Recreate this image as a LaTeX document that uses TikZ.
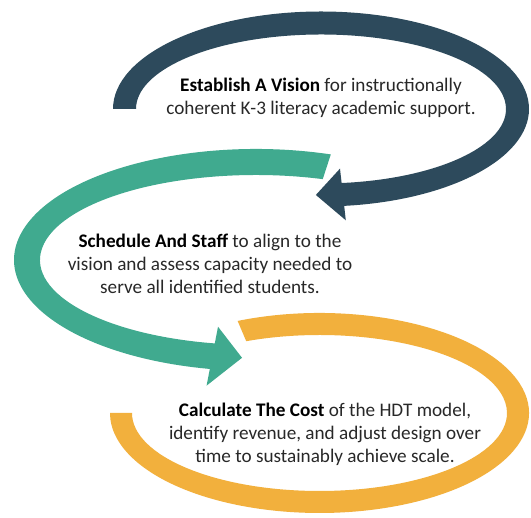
\documentclass[tikz,border=0pt]{standalone}
\usepackage{fontspec}
\setmainfont{Carlito}
\definecolor{navyband}{RGB}{45,74,92}
\definecolor{tealband}{RGB}{64,170,143}
\definecolor{goldband}{RGB}{242,176,61}
\definecolor{bodytext}{RGB}{40,40,40}
\tikzset{
  steptext/.style={align=center, text=bodytext, font=\fontsize{19.2pt}{23pt}\selectfont, inner sep=0pt},
}
\newcommand{\lead}[1]{\textbf{\color{black}#1}}
\begin{document}
\begin{tikzpicture}[x=1pt,y=1pt]
\useasboundingbox (0,0) rectangle (531,518);
\fill[white] (0,0) rectangle (531,518);

% top loop: dark band ending in a left-pointing head
\begin{scope}[shift={(321pt,409pt)}]
\fill[navyband] (180:208pt and 97.5pt)
  arc[start angle=180, end angle=-83.6, x radius=208pt, y radius=97.5pt]
  -- (-83.6:222.5pt and 112pt)
  -- (-91.5:196.5pt and 86pt)
  -- (-83.6:170.5pt and 60pt)
  -- (-83.6:185pt and 74.5pt)
  arc[start angle=-83.6, end angle=180, x radius=185pt, y radius=74.5pt]
  -- cycle;
\end{scope}

% middle loop: teal band ending in a right-pointing head
\begin{scope}[shift={(256pt,258pt)}]
\fill[tealband] (72:242pt and 111pt)
  arc[start angle=72, end angle=259, x radius=242pt, y radius=111pt]
  -- (259:259pt and 128pt)
  -- (266.5:229pt and 98pt)
  -- (259:199pt and 68pt)
  -- (259:216pt and 85pt)
  arc[start angle=259, end angle=72, x radius=216pt, y radius=85pt]
  -- cycle;
\end{scope}

% bottom loop: gold band, open at the lower left
\begin{scope}[shift={(319.5pt,105pt)}]
\fill[goldband] (113:209.5pt and 100pt)
  arc[start angle=113, end angle=-180, x radius=209.5pt, y radius=100pt]
  -- (-180:187.5pt and 78pt)
  arc[start angle=-180, end angle=113, x radius=187.5pt, y radius=78pt]
  -- cycle;
\end{scope}

\node[steptext] (vision) at (321,420.5)
  {\lead{Establish A Vision} for instructionally\\coherent K-3 literacy academic support.};
\node[steptext] (staff) at (210,254)
  {\lead{Schedule And Staff} to align to the\\vision and assess capacity needed to\\serve all identified students.};
\node[steptext] (cost) at (325,84)
  {\lead{Calculate The Cost} of the HDT model,\\identify revenue, and adjust design over\\time to sustainably achieve scale.};
\end{tikzpicture}
\end{document}
